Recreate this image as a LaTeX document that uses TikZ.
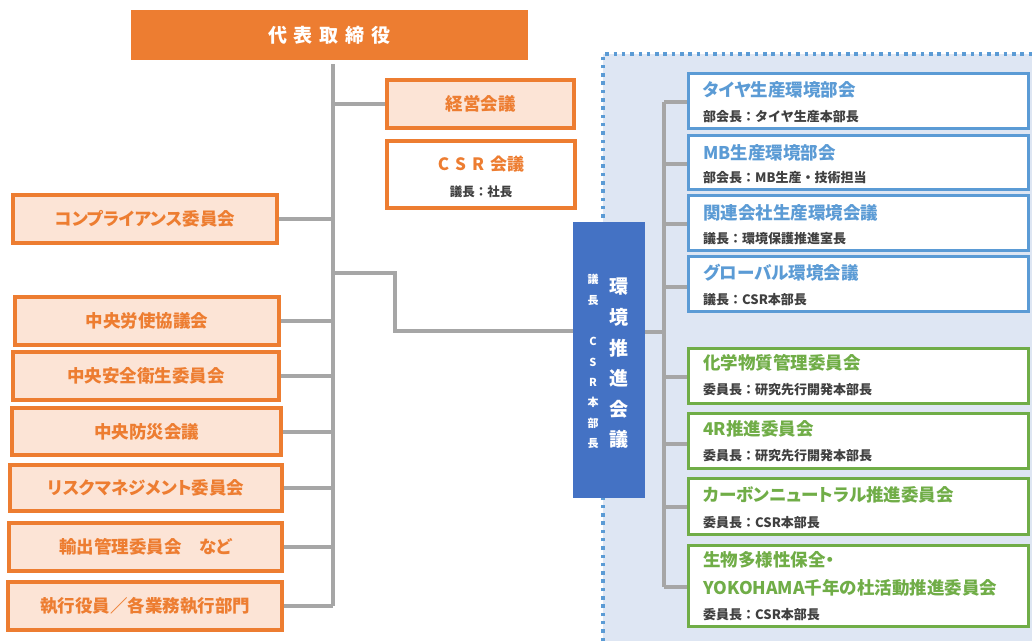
\documentclass[tikz,border=0pt]{standalone}
\usepackage{fontspec}
\newfontfamily\jp{Noto Sans CJK JP}
\newfontfamily\jpp{Noto Sans CJK JP}[RawFeature=+palt]
\definecolor{orangeM}{HTML}{ED7D31}
\definecolor{peach}{HTML}{FCE4D6}
\definecolor{gline}{HTML}{A6A6A6}
\definecolor{blueD}{HTML}{4472C4}
\definecolor{blueL}{HTML}{5B9BD5}
\definecolor{greenC}{HTML}{70AD47}
\definecolor{regionF}{HTML}{DEE6F3}
\definecolor{subtxt}{HTML}{404040}
\begin{document}
\begin{tikzpicture}[x=1pt,y=-1pt,
  obox/.style={draw=orangeM, line width=3.5pt, fill=peach, text=orangeM, inner sep=0pt,
    font=\jpp\bfseries\fontsize{17.5}{20}\selectfont},
  conn/.style={draw=gline, line width=4pt},
  rbox/.style={line width=3pt, fill=white, minimum width=340pt, inner sep=0pt},
  bbox/.style={rbox, draw=blueL, minimum height=55pt},
  gbox/.style={rbox, draw=greenC, minimum height=55pt},
  btitle/.style={anchor=west, inner sep=0pt, text=blueL, font=\jpp\bfseries\fontsize{17.5}{20}\selectfont},
  gtitle/.style={anchor=west, inner sep=0pt, text=greenC, font=\jpp\bfseries\fontsize{17.5}{20}\selectfont},
  subt/.style={anchor=west, inner sep=0pt, text=subtxt, font=\jp\bfseries\fontsize{13}{15}\selectfont}
]
\useasboundingbox (0,0) rectangle (1032,641);
% dotted region
\fill[regionF] (603,54) rectangle (1032,641);
\draw[blueL, line width=3.5pt, dash pattern=on 3.5pt off 4.8pt] (603,641) -- (603,54) -- (1032,54);

% left trunk and connectors
\coordinate (tTop) at (333,64);
\coordinate (kjoin) at (333,273);
\coordinate (kbend) at (395,273);
\coordinate (kbend2) at (395,331);

\node[fill=orangeM, minimum width=397pt, minimum height=50pt, inner sep=0pt, text=white,
  font=\jp\bfseries\fontsize{19}{22}\selectfont] (top) at (329.5,35)
  {代\hspace{7pt}表\hspace{7pt}取\hspace{7pt}締\hspace{7pt}役};

\node[obox, minimum width=187pt, minimum height=48pt] (keiei) at (480.5,104) {経営会議};
\node[obox, fill=white, minimum width=188pt, minimum height=67pt] (csr) at (481,174.5) {};
\node[inner sep=0pt, text=orangeM, font=\jp\bfseries\fontsize{17}{20}\selectfont] (csrt) at (481,164)
  {C\hspace{6pt}S\hspace{6pt}R\hspace{6pt}会議};
\node[inner sep=0pt, text=subtxt, font=\jp\bfseries\fontsize{12.5}{15}\selectfont] (csrs) at (481,192) {議長：社長};

\node[obox, minimum width=264pt, minimum height=48pt] (comp) at (145,219) {コンプライアンス委員会};
\node[obox, minimum width=264pt, minimum height=48pt] (rouki) at (147,321) {中央労使協議会};
\node[obox, minimum width=266pt, minimum height=48pt] (anzen) at (146,376) {中央安全衛生委員会};
\node[obox, minimum width=269pt, minimum height=47pt] (bousai) at (146.5,431.5) {中央防災会議};
\node[obox, minimum width=272pt, minimum height=46pt] (risk) at (146,488) {リスクマネジメント委員会};
\node[obox, minimum width=273pt, minimum height=48pt] (yushutsu) at (145.5,547) {輸出管理委員会　など};
\node[obox, minimum width=274pt, minimum height=48pt] (shikkou) at (145,606) {執行役員／各業務執行部門};

\coordinate (tBot) at (shikkou.east -| tTop);
\draw[conn] (tTop) -- (tBot);
\draw[conn] (keiei.west -| tTop) -- (keiei.west);
\foreach \n in {comp,rouki,anzen,bousai,risk,yushutsu,shikkou}
  \draw[conn] (\n.east) -- (\n.east -| tTop);

% kankyo branch
\node[fill=blueD, minimum width=72pt, minimum height=276pt, inner sep=0pt] (kankyo) at (609,360) {};
\draw[conn] (kjoin) -- (kbend) -- (kbend2) -- (kbend2 -| kankyo.west);
\node[fill=blueD, minimum width=72pt, minimum height=276pt, inner sep=0pt] at (kankyo) {};
\node[inner sep=0pt, text=white, align=center, font=\jp\bfseries\fontsize{19}{30.6}\selectfont] (kbig) at (619,363.5)
  {環\\境\\推\\進\\会\\議};
\node[inner sep=0pt, text=white, align=center, font=\jp\bfseries\fontsize{11}{21}\selectfont] (ksm1) at (593,289.5)
  {議\\長};
\node[inner sep=0pt, text=white, align=center, font=\jp\bfseries\fontsize{11}{20.4}\selectfont] (ksm2) at (593,393)
  {C\\S\\R\\本\\部\\長};

% right boxes
\node[bbox, minimum height=55pt] (b1) at (858,100.5) {};
\node[bbox, minimum height=54pt] (b2) at (858,162) {};
\node[bbox, minimum height=55pt] (b3) at (858,222.5) {};
\node[bbox, minimum height=55pt] (b4) at (858,283.5) {};
\node[gbox, minimum height=55pt] (g1) at (858,375.5) {};
\node[gbox, minimum height=55pt] (g2) at (858,440.5) {};
\node[gbox, minimum height=56pt] (g3) at (858,506) {};
\node[gbox, minimum height=81pt] (g4) at (858,585.5) {};

\coordinate (rTop) at (664,102);
\coordinate (rBot) at (664,587);
\draw[conn] (rTop) -- (rBot);
\draw[conn] (kankyo.east |- 0,332) -- (664,332);
\draw[conn] (b1.west |- rTop) -- (rTop);
\foreach \n/\yy in {b2/164,b3/224,b4/287,g1/377,g2/444,g3/507}
  \draw[conn] (\n.west |- 0,\yy) -- (664,\yy);
\draw[conn] (g4.west |- rBot) -- (rBot);

\node[btitle] (b1t) at (703,90) {タイヤ生産環境部会};
\node[subt] (b1s) at (703,117) {部会長：タイヤ生産本部長};
\node[btitle] (b2t) at (703,153) {MB生産環境部会};
\node[subt] (b2s) at (703,178) {部会長：MB生産・技術担当};
\node[btitle] (b3t) at (703,213) {関連会社生産環境会議};
\node[subt] (b3s) at (703,239) {議長：環境保護推進室長};
\node[btitle] (b4t) at (703,273) {グローバル環境会議};
\node[subt] (b4s) at (703,300) {議長：CSR本部長};

\node[gtitle] (g1t) at (703,363) {化学物質管理委員会};
\node[subt] (g1s) at (703,390) {委員長：研究先行開発本部長};
\node[gtitle] (g2t) at (703,429) {4R推進委員会};
\node[subt] (g2s) at (703,456) {委員長：研究先行開発本部長};
\node[gtitle] (g3t) at (703,495) {カーボンニュートラル推進委員会};
\node[subt] (g3s) at (703,523) {委員長：CSR本部長};
\node[gtitle] (g4t) at (703,560) {生物多様性保全・};
\node[gtitle] (g4u) at (703,588) {YOKOHAMA千年の杜活動推進委員会};
\node[subt] (g4s) at (703,615) {委員長：CSR本部長};
\end{tikzpicture}
\end{document}
